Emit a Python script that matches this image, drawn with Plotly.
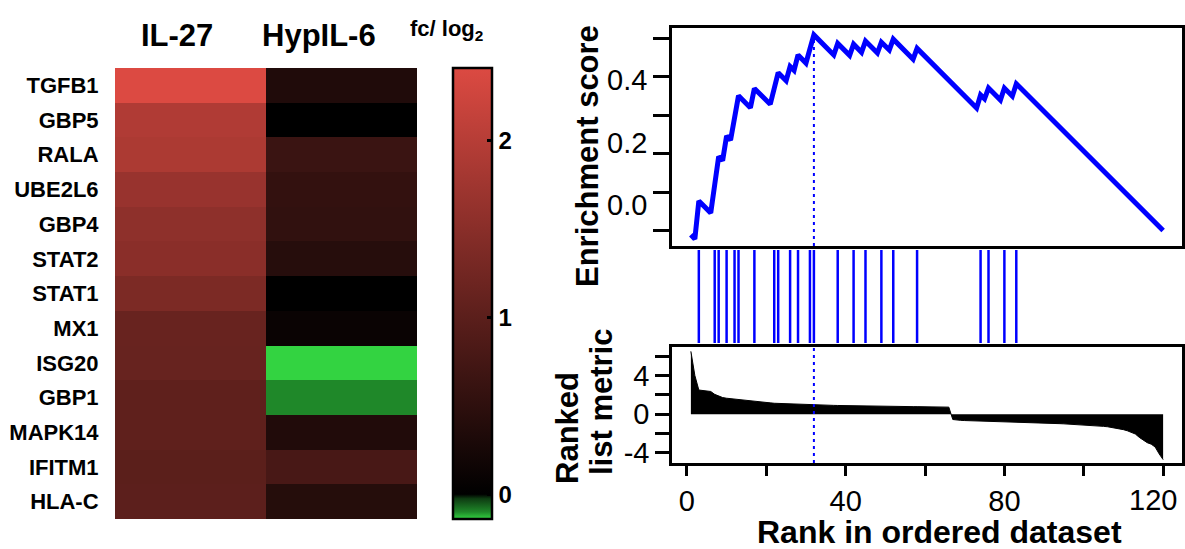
import plotly.graph_objects as go

# ---------------- data ----------------
genes = ["TGFB1", "GBP5", "RALA", "UBE2L6", "GBP4", "STAT2", "STAT1",
         "MX1", "ISG20", "GBP1", "MAPK14", "IFITM1", "HLA-C"]
conditions = ["IL-27", "HypIL-6"]
il27_fc = [2.41, 1.93, 1.88, 1.67, 1.56, 1.51, 1.36, 1.14, 1.13, 1.04, 1.04, 1.00, 1.01]
hypil6_fc = [0.35, 0.0, 0.64, 0.56, 0.54, 0.42, 0.0, 0.11, -0.30, -0.10, 0.36, 0.79, 0.41]
colorbar_ticks = [0, 1, 2]

# GSEA running enrichment score (vertices)
es_ranks = [1, 2, 3, 6, 7, 8, 9, 10, 11, 12, 13, 16, 17, 21, 22, 23, 25, 26, 27, 28,
            30, 31, 32, 37, 38, 41, 42, 44, 45, 48, 49, 51, 52, 57, 58, 73, 74, 75,
            76, 79, 80, 82, 83, 120]
es_values = [-0.010, -0.021, 0.078, 0.047, 0.120, 0.193, 0.183, 0.247, 0.236, 0.293,
             0.351, 0.320, 0.370, 0.329, 0.370, 0.411, 0.390, 0.427, 0.417, 0.457,
             0.436, 0.472, 0.509, 0.457, 0.487, 0.456, 0.485, 0.464, 0.493, 0.462,
             0.490, 0.470, 0.498, 0.446, 0.474, 0.319, 0.353, 0.343, 0.371, 0.340,
             0.371, 0.350, 0.382, 0.001]
es_ticks = [0.0, 0.1, 0.2, 0.3, 0.4, 0.5]
es_labels = ["0.0", "0.2", "0.4"]

# gene-set hit positions in the ranked list
hit_ranks = [3, 7, 8, 10, 12, 13, 17, 22, 23, 26, 28, 31, 32, 38, 42, 45, 49, 52, 58,
             74, 76, 80, 83]
peak_rank = 32

# ranked list metric, ranks 1..120
rank_metric = [6.5, 4.0, 2.5, 2.45, 2.42, 2.35, 2.05, 1.85, 1.72, 1.65,
               1.60, 1.56, 1.52, 1.48, 1.44, 1.40, 1.36, 1.31, 1.26, 1.21,
               1.17, 1.13, 1.11, 1.09, 1.07, 1.05, 1.03, 1.01, 0.99, 0.98,
               0.97, 0.96, 0.95, 0.94, 0.93, 0.92, 0.91, 0.90, 0.89, 0.89,
               0.88, 0.87, 0.87, 0.86, 0.85, 0.85, 0.84, 0.83, 0.83, 0.82,
               0.81, 0.81, 0.80, 0.80, 0.79, 0.79, 0.78, 0.78, 0.77, 0.77,
               0.76, 0.76, 0.75, 0.75, 0.74, 0.73, -0.55, -0.62, -0.64, -0.66,
               -0.67, -0.68, -0.69, -0.70, -0.71, -0.72, -0.73, -0.74, -0.75, -0.76,
               -0.77, -0.78, -0.79, -0.80, -0.82, -0.83, -0.84, -0.86, -0.88, -0.90,
               -0.92, -0.94, -0.96, -0.98, -1.00, -1.02, -1.04, -1.06, -1.08, -1.10,
               -1.12, -1.15, -1.18, -1.22, -1.26, -1.30, -1.36, -1.42, -1.50, -1.60,
               -1.72, -1.88, -2.05, -2.40, -2.70, -2.95, -3.10, -3.40, -4.10, -4.70]
rank_ticks = [0, 20, 40, 60, 80, 100, 120]
rank_ticktext = ["0", "", "40", "", "80", "", ""]
last_rank_label = "120"
metric_ticks = [-4, -2, 0, 2, 4, 6]
metric_ticktext = ["-4", "", "0", "", "4", ""]

# ---------------- layout helpers ----------------
W, H = 1185, 549
def fx(px):
    return px / W
def fy(py):
    return 1 - py / H

FONT = "Liberation Sans, Arial, Helvetica, sans-serif"
BLUE = "#0000FF"

zmin, zmax = -0.14, 2.41
colorscale = [
    [0.0, "rgb(51,211,65)"],
    [0.0157, "rgb(31,136,41)"],
    [0.045, "rgb(14,60,18)"],
    [0.0549, "rgb(0,0,0)"],
    [1.0, "rgb(220,74,66)"],
]
CB_TOP, CB_BOT, CB_LEFT, CB_W = 68, 519, 453, 39

fig = go.Figure()

# heatmap
fig.add_trace(go.Heatmap(
    z=[[a, b] for a, b in zip(il27_fc, hypil6_fc)],
    x=conditions, y=genes,
    zmin=zmin, zmax=zmax, colorscale=colorscale,
    xaxis="x", yaxis="y", hoverinfo="skip",
    colorbar=dict(
        x=fx(CB_LEFT), xanchor="left", y=fy(CB_TOP), yanchor="top",
        len=(CB_BOT - CB_TOP) / H, lenmode="fraction",
        thickness=CB_W, thicknessmode="pixels",
        outlinewidth=2.5, outlinecolor="black",
        ticks="inside", ticklen=6, tickwidth=2.5, tickcolor="black",
        tickvals=colorbar_ticks, tickprefix="\u00a0",
        tickfont=dict(family=FONT, size=24, color="black", weight="bold"),
        xpad=0, ypad=0, borderwidth=0,
    ),
))

# enrichment score curve
fig.add_trace(go.Scatter(
    x=es_ranks, y=es_values, mode="lines",
    line=dict(color=BLUE, width=5),
    xaxis="x3", yaxis="y3", hoverinfo="skip", showlegend=False,
))

# hits
hx, hy = [], []
for r in hit_ranks:
    hx += [r, r, None]
    hy += [0, 1, None]
fig.add_trace(go.Scatter(
    x=hx, y=hy, mode="lines", line=dict(color=BLUE, width=2.5),
    xaxis="x4", yaxis="y4", hoverinfo="skip", showlegend=False,
))

# ranked list metric
fig.add_trace(go.Scatter(
    x=list(range(1, len(rank_metric) + 1)), y=rank_metric, mode="lines",
    fill="tozeroy", fillcolor="black", line=dict(color="black", width=1),
    xaxis="x5", yaxis="y5", hoverinfo="skip", showlegend=False,
))

xr = [-3.76, 124.76]
box = dict(showline=True, mirror=True, linecolor="black", linewidth=2.5,
           showgrid=False, zeroline=False)

fig.update_layout(
    width=W, height=H,
    margin=dict(l=0, r=0, t=0, b=0, autoexpand=False),
    paper_bgcolor="white", plot_bgcolor="white",
    showlegend=False,
    font=dict(family=FONT, color="black"),
    xaxis=dict(domain=[fx(115), fx(417)], showticklabels=False, showgrid=False,
               zeroline=False, ticks="", anchor="y"),
    yaxis=dict(domain=[fy(519), fy(68)], autorange="reversed", showgrid=False,
               zeroline=False, ticks="outside", ticklen=11,
               tickcolor="rgba(0,0,0,0)", anchor="x",
               tickfont=dict(family=FONT, size=22, color="black", weight="bold")),
    xaxis3=dict(domain=[fx(672), fx(1182)], range=xr, ticks="",
                showticklabels=False, anchor="y3", **box),
    yaxis3=dict(domain=[fy(246), fy(28)], range=[-0.039, 0.527],
                tickvals=es_ticks, ticks="outside", ticklen=16, tickwidth=2.5,
                tickcolor="black", showticklabels=False, anchor="x3", **box),
    xaxis4=dict(domain=[fx(672), fx(1182)], range=xr, visible=False, anchor="y4"),
    yaxis4=dict(domain=[fy(343), fy(250)], range=[0, 1], visible=False, anchor="x4"),
    xaxis5=dict(domain=[fx(672), fx(1182)], range=xr, tickvals=rank_ticks,
                ticktext=rank_ticktext, ticks="outside", ticklen=10, tickwidth=2.5,
                tickcolor="black", anchor="y5",
                tickfont=dict(family=FONT, size=29, color="black"), **box),
    yaxis5=dict(domain=[fy(463), fy(347)], range=[-5.05, 6.95], tickvals=metric_ticks,
                ticktext=metric_ticktext, ticks="outside", ticklen=14, tickwidth=2.5,
                tickcolor="black", anchor="x5",
                tickfont=dict(family=FONT, size=29, color="black"), **box),
)

def note(text, px, py, size, angle=0, xanchor="center"):
    return dict(text=text, x=fx(px), y=fy(py), xref="paper", yref="paper",
                xanchor=xanchor, yanchor="middle", textangle=angle,
                showarrow=False, font=dict(size=size, family=FONT, color="black"))

ann = [
    note("<b>IL-27</b>", 177, 35, 31),
    note("<b>HypIL-6</b>", 319, 35, 31),
    note("<b>fc/ log<sub>2</sub></b>", 446, 30, 22),
]
for lab, py in zip(es_labels, [205, 143, 80]):
    ann.append(note(lab, 649, py, 29, xanchor="right"))
ann += [
    note("<b>Enrichment score</b>", 587, 156, 31, angle=-90),
    note("<b>Ranked</b>", 567, 428, 31, angle=-90),
    note("<b>list metric</b>", 601, 402, 31, angle=-90),
    note("<b>Rank in ordered dataset</b>", 939, 532, 32),
    note(last_rank_label, 1153, 500, 29),
]
fig.update_layout(annotations=ann)

peak_es = max(es_values)
fig.add_shape(type="line", xref="x3", yref="y3", x0=peak_rank, x1=peak_rank,
              y0=-0.039, y1=peak_es, line=dict(color=BLUE, width=2, dash="3px,4px"))
fig.add_shape(type="line", xref="x5", yref="y5 domain", x0=peak_rank, x1=peak_rank,
              y0=0, y1=1, line=dict(color=BLUE, width=2, dash="3px,4px"))

fig.write_html(
    "out.html",
    config={"displayModeBar": False},
    post_script="document.body.style.margin='0';document.body.style.padding='0';"
                "document.body.style.overflow='hidden';",
)
